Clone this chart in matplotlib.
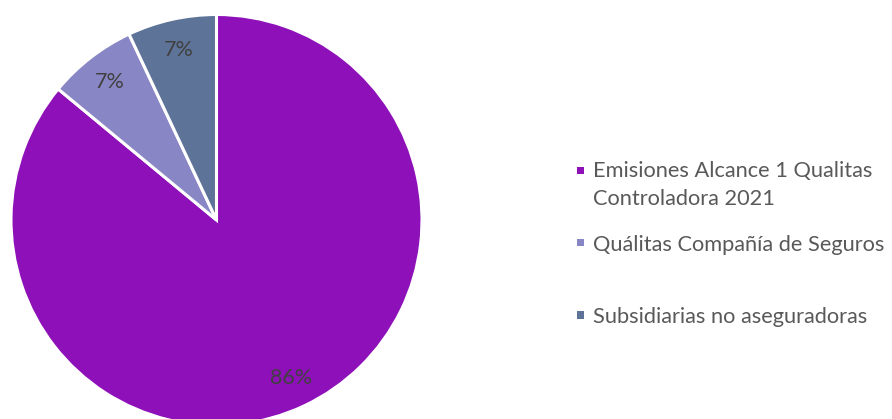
import matplotlib
matplotlib.use("Agg")
import matplotlib.pyplot as plt
from matplotlib.patches import Rectangle

categories = ["Emisiones Alcance 1 Qualitas\nControladora 2021",
              "Quálitas Compañía de Seguros",
              "Subsidiarias no aseguradoras"]
values = [86, 7, 7]
colors = ["#8E10B8", "#8986C5", "#5E7398"]

plt.rcParams['font.family'] = ['Lato', 'DejaVu Sans']

W, H = 892, 419
fig = plt.figure(figsize=(W / 100, H / 100), dpi=100)
cx, cy, r = 216.5, 419 - 220, 205.5
ax = fig.add_axes([(cx - r) / W, (cy - r) / H, 2 * r / W, 2 * r / H])
wedges, texts, autotexts = ax.pie(
    values, colors=colors, startangle=90, counterclock=False,
    autopct=lambda p: f"{p:.0f}%", pctdistance=0.85,
    wedgeprops=dict(edgecolor="white", linewidth=2.2),
    textprops=dict(color="#404040", fontsize=15.5))
for w in wedges:
    w.set_clip_on(False)
ax.set_xlim(-1, 1)
ax.set_ylim(-1, 1)
ax.set_aspect("equal")
ax.axis("off")

# legend (pixel positions from top)
marker_y = [170.3, 242.5, 315]
baseline_y = [177.3, 250.7, 322.5]
line_gap = 27.7
for lab, col, my, by in zip(categories, colors, marker_y, baseline_y):
    fig.patches.append(Rectangle((576.5 / W, (419 - my - 3.6) / H), 7 / W, 7.2 / H,
                                 transform=fig.transFigure, facecolor=col,
                                 edgecolor="none"))
    for i, line in enumerate(lab.split("\n")):
        fig.text(593 / W, (419 - by - i * line_gap) / H, line, ha="left",
                 va="baseline", fontsize=15.7, color="#595959")

fig.savefig("out.png", dpi=100)
